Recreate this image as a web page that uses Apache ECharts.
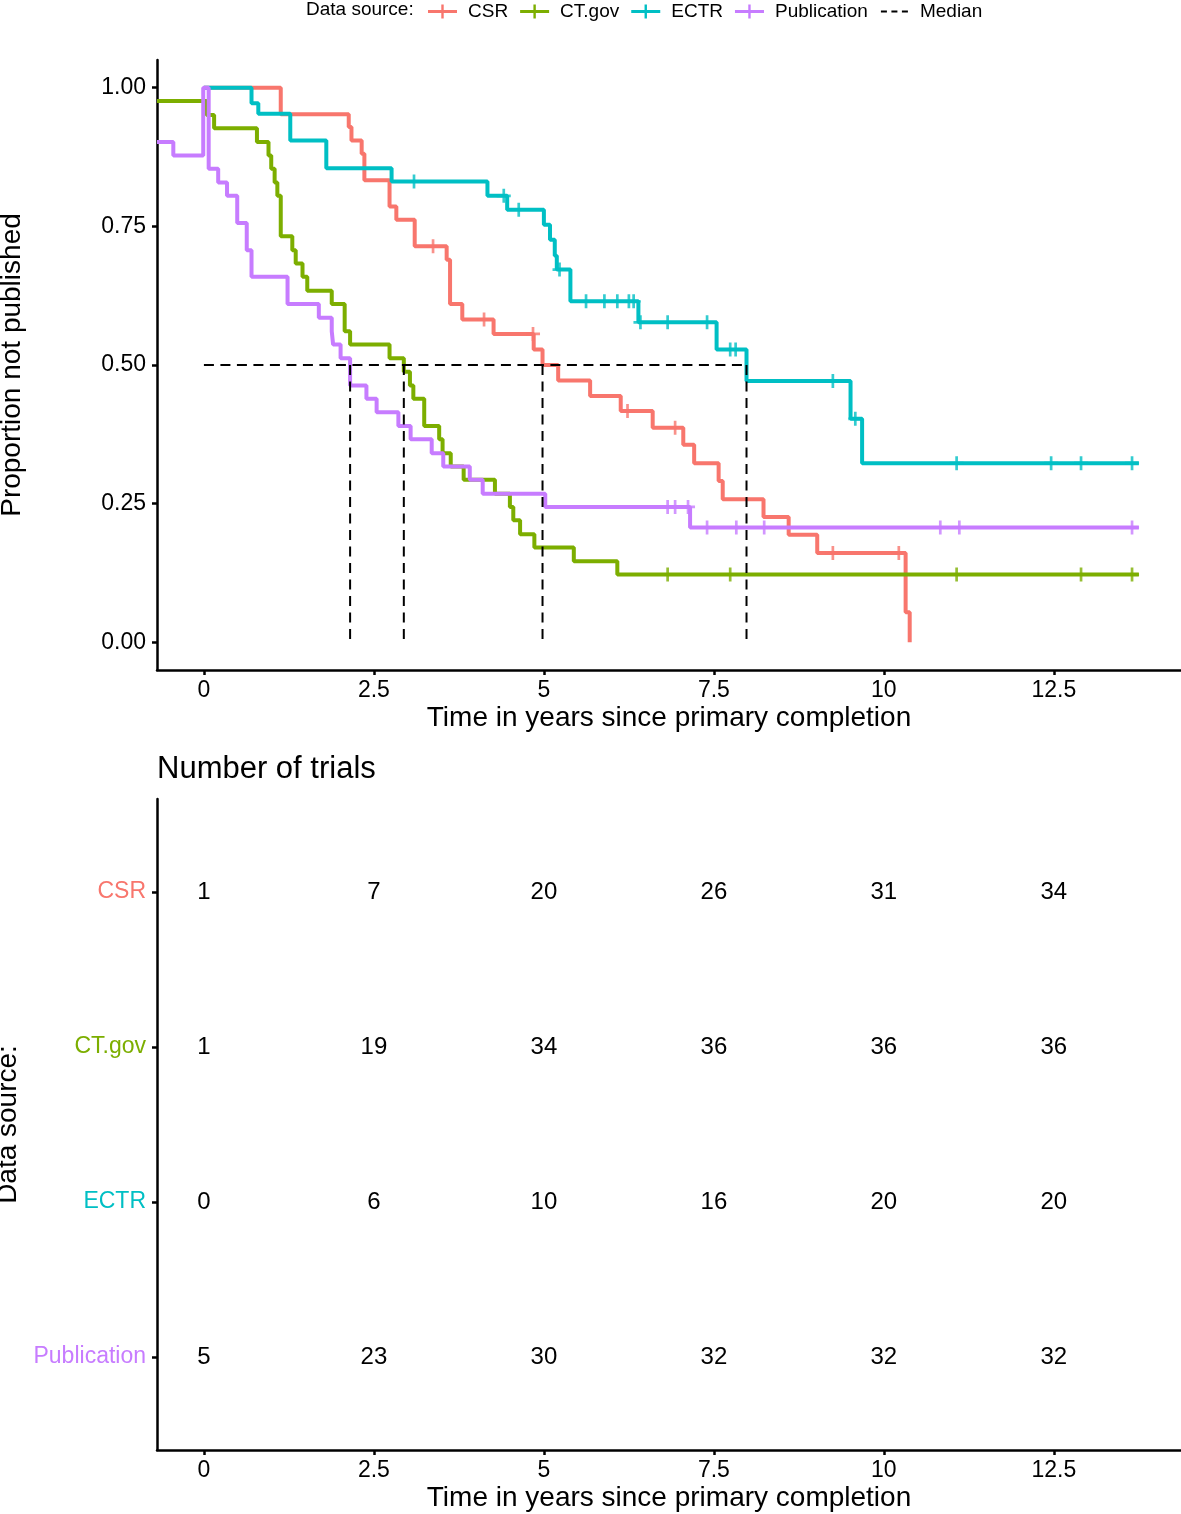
<!DOCTYPE html>
<html><head><meta charset="utf-8">
<script src="https://cdn.jsdelivr.net/npm/echarts@6/dist/echarts.min.js"></script>
<style>html,body{margin:0;padding:0;background:#fff}#chart{width:1181px;height:1514px}</style>
</head><body><div id="chart"></div>
<script>
const FONT = '"Liberation Sans", Arial, Helvetica, sans-serif';
const seriesNames = ['CSR', 'CT.gov', 'ECTR', 'Publication'];
const seriesColors = ['#F8766D', '#7CAE00', '#00BFC4', '#C77CFF'];

// Kaplan-Meier steps (time in years, proportion not published)
const csrTime = [0, 1.13, 2.13, 2.17, 2.32, 2.36, 2.73, 2.83, 3.10, 3.57, 3.62, 3.80, 4.26, 4.85, 4.98, 5.21, 5.68, 6.13, 6.60, 7.05, 7.21, 7.57, 7.63, 8.23, 8.60, 9.02, 10.32, 10.38];
const csrSurv = [1.0, 0.952, 0.929, 0.905, 0.881, 0.833, 0.786, 0.762, 0.714, 0.690, 0.610, 0.582, 0.556, 0.528, 0.500, 0.472, 0.444, 0.417, 0.387, 0.356, 0.323, 0.291, 0.258, 0.226, 0.194, 0.161, 0.054, 0.0];
const csrCensor = [3.37, 4.12, 4.84, 6.23, 6.93, 9.25, 10.22];

const ctgovTime = [-0.69, 0.04, 0.15, 0.78, 0.95, 0.99, 1.04, 1.08, 1.13, 1.30, 1.35, 1.45, 1.52, 1.88, 2.07, 2.15, 2.73, 2.94, 3.03, 3.08, 3.24, 3.46, 3.51, 3.63, 3.82, 4.28, 4.50, 4.55, 4.65, 4.86, 5.44, 6.08, 13.75];
const ctgovSurv = [0.976, 0.951, 0.927, 0.902, 0.878, 0.854, 0.829, 0.805, 0.732, 0.707, 0.683, 0.659, 0.634, 0.610, 0.561, 0.537, 0.512, 0.488, 0.463, 0.439, 0.390, 0.366, 0.341, 0.317, 0.293, 0.268, 0.244, 0.220, 0.195, 0.171, 0.146, 0.122, 0.122];
const ctgovCensor = [6.82, 7.74, 11.07, 12.90, 13.65];

const ectrTime = [0, 0.70, 0.80, 1.27, 1.80, 2.76, 4.17, 4.46, 5.00, 5.09, 5.16, 5.19, 5.39, 6.39, 7.54, 7.98, 9.51, 9.68, 13.75];
const ectrSurv = [1.0, 0.972, 0.953, 0.905, 0.855, 0.831, 0.805, 0.780, 0.753, 0.726, 0.697, 0.672, 0.615, 0.577, 0.528, 0.471, 0.403, 0.323, 0.323];
const ectrCensor = [3.09, 4.41, 4.63, 5.23, 5.62, 5.89, 6.08, 6.25, 6.32, 6.42, 6.82, 7.40, 7.74, 7.82, 9.25, 9.58, 11.07, 12.46, 12.90, 13.65];

const pubTime = [-0.69, -0.45, -0.01, 0.07, 0.21, 0.34, 0.49, 0.63, 0.70, 1.23, 1.69, 1.88, 1.90, 2.01, 2.15, 2.39, 2.54, 2.86, 3.04, 3.35, 3.52, 3.91, 4.10, 5.02, 7.15, 13.75];
const pubSurv = [0.902, 0.878, 1.0, 0.854, 0.829, 0.805, 0.756, 0.707, 0.659, 0.610, 0.585, 0.561, 0.537, 0.512, 0.463, 0.439, 0.415, 0.390, 0.366, 0.341, 0.317, 0.293, 0.268, 0.244, 0.207, 0.207];
const pubCensor = [6.82, 6.93, 7.12, 7.40, 7.83, 8.24, 10.83, 11.11, 13.65];

const medianLevel = 0.5;
const medianTimes = [2.15, 2.94, 4.98, 7.98];

// Number of trials table
const tableTimes = [0, 2.5, 5, 7.5, 10, 12.5];
const csrCounts = [1, 7, 20, 26, 31, 34];
const ctgovCounts = [1, 19, 34, 36, 36, 36];
const ectrCounts = [0, 6, 10, 16, 20, 20];
const pubCounts = [5, 23, 30, 32, 32, 32];

const xTicks = [0, 2.5, 5, 7.5, 10, 12.5];
const yTicks = [0, 0.25, 0.5, 0.75, 1.0];

const curves = [
  [csrTime, csrSurv, csrCensor],
  [ctgovTime, ctgovSurv, ctgovCensor],
  [ectrTime, ectrSurv, ectrCensor],
  [pubTime, pubSurv, pubCensor]
];
const counts = [csrCounts, ctgovCounts, ectrCounts, pubCounts];

function survAt(times, survs, t) {
  let s = survs[0];
  for (let i = 0; i < times.length; i++) if (times[i] <= t) s = survs[i];
  return s;
}

const plusPath = 'path://M0,5.25H13V7.75H0Z M5.25,0H7.75V13H5.25Z';
const legendPlus = 'path://M0,5.5H29V8.5H0Z M13.3,0H15.7V14H13.3Z';
const legendDash = 'path://M0,0h0.01v0.01h-0.01Z M29,14h0.01v0.01h-0.01Z M1,6H7V8H1Z M11.5,6H17.5V8H11.5Z M22,6H28V8H22Z';

const series = [];
curves.forEach((c, i) => {
  const [tt, ss, cc] = c;
  series.push({
    name: seriesNames[i], type: 'line', step: 'end', xAxisIndex: 0, yAxisIndex: 0,
    data: tt.map((t, k) => [t, ss[k]]), showSymbol: false, symbol: 'none',
    lineStyle: { color: seriesColors[i], width: 4 }, itemStyle: { color: seriesColors[i] },
    z: 2 + i, silent: true
  });
  series.push({
    name: seriesNames[i], type: 'scatter', xAxisIndex: 0, yAxisIndex: 0,
    data: cc.map(t => [t, survAt(tt, ss, t)]), symbol: plusPath, symbolSize: 14,
    itemStyle: { color: seriesColors[i] }, z: 2 + i, silent: true
  });
});
const maxMedian = Math.max.apply(null, medianTimes);
series.push({
  name: 'Median', type: 'line', xAxisIndex: 0, yAxisIndex: 0,
  data: [[0, medianLevel], [maxMedian, medianLevel]], symbol: 'none',
  lineStyle: { color: '#000', width: 2, type: [10, 6.5] }, itemStyle: { color: '#000' }, z: 10, silent: true
});
medianTimes.forEach(t => {
  series.push({
    name: 'Median', type: 'line', xAxisIndex: 0, yAxisIndex: 0,
    data: [[t, medianLevel], [t, 0]], symbol: 'none',
    lineStyle: { color: '#000', width: 2, type: [10, 6.5] }, itemStyle: { color: '#000' }, z: 10, silent: true
  });
});
const tableData = [];
counts.forEach((arr, r) => arr.forEach((v, k) => tableData.push([tableTimes[k], r, v])));
series.push({
  name: 'table', type: 'scatter', xAxisIndex: 1, yAxisIndex: 1, data: tableData,
  symbol: 'circle', symbolSize: 1, itemStyle: { color: '#fff', opacity: 1 }, silent: true,
  label: { show: true, position: 'inside', formatter: p => String(p.value[2]), color: '#000', opacity: 1,
    textBorderWidth: 0, fontSize: 24, fontFamily: FONT }
});

const axisLineStyle = { show: true, onZero: false, lineStyle: { color: '#000', width: 2.5 } };
const axisTickStyle = (vals) => ({ show: true, customValues: vals, length: 5, lineStyle: { color: '#000', width: 2.5 } });

const rich = {};
seriesNames.forEach((n, i) => { rich['c' + i] = { color: seriesColors[i], fontSize: 23, fontFamily: FONT }; });

const xAxisBase = (gi) => ({
  type: 'value', gridIndex: gi, min: -0.69, max: 14.37,
  axisLine: axisLineStyle, axisTick: axisTickStyle(xTicks), splitLine: { show: false },
  axisLabel: { customValues: xTicks, color: '#000', fontSize: 23, fontFamily: FONT, margin: 9, formatter: v => String(v) },
  name: 'Time in years since primary completion', nameLocation: 'middle', nameGap: 34,
  nameTextStyle: { color: '#000', fontSize: 28, fontFamily: FONT }
});

const option = {
  animation: false,
  backgroundColor: '#fff',
  textStyle: { fontFamily: FONT },
  title: [
    { text: 'Data source:', left: 306, top: 0, padding: 0, textStyle: { fontSize: 19, fontWeight: 'normal', color: '#000', fontFamily: FONT } },
    { text: 'Number of trials', left: 157, top: 754, padding: 0, textStyle: { fontSize: 31, fontWeight: 'normal', color: '#000', fontFamily: FONT } }
  ],
  legend: {
    left: 428, top: 2, itemWidth: 29, itemHeight: 14, itemGap: 12, selectedMode: false, padding: 0,
    textStyle: { fontSize: 19, color: '#000', fontFamily: FONT, padding: [0, 0, 0, 6] },
    data: [
      { name: 'CSR', icon: legendPlus, itemStyle: { color: seriesColors[0] } },
      { name: 'CT.gov', icon: legendPlus, itemStyle: { color: seriesColors[1] } },
      { name: 'ECTR', icon: legendPlus, itemStyle: { color: seriesColors[2] } },
      { name: 'Publication', icon: legendPlus, itemStyle: { color: seriesColors[3] } },
      { name: 'Median', icon: legendDash, itemStyle: { color: '#000' } }
    ]
  },
  grid: [
    { left: 157, right: 0, top: 60, height: 610, containLabel: false, outerBoundsMode: 'none' },
    { left: 157, right: 0, top: 799, height: 651, containLabel: false, outerBoundsMode: 'none' }
  ],
  xAxis: [xAxisBase(0), xAxisBase(1)],
  yAxis: [
    {
      type: 'value', gridIndex: 0, min: -0.05, max: 1.05,
      axisLine: axisLineStyle, axisTick: axisTickStyle(yTicks), splitLine: { show: false },
      axisLabel: { customValues: yTicks, color: '#000', fontSize: 23, fontFamily: FONT, margin: 11, formatter: v => v.toFixed(2) },
      name: 'Proportion not published', nameLocation: 'middle', nameGap: 131,
      nameTextStyle: { color: '#000', fontSize: 28, fontFamily: FONT }
    },
    {
      type: 'value', gridIndex: 1, min: -0.6, max: 3.6, inverse: true,
      axisLine: axisLineStyle, axisTick: axisTickStyle([0, 1, 2, 3]), splitLine: { show: false },
      axisLabel: { customValues: [0, 1, 2, 3], margin: 11, fontSize: 23, fontFamily: FONT, rich: rich,
        formatter: v => '{c' + Math.round(v) + '|' + seriesNames[Math.round(v)] + '}' },
      name: 'Data source:', nameLocation: 'middle', nameGap: 131,
      nameTextStyle: { color: '#000', fontSize: 28, fontFamily: FONT }
    }
  ],
  series: series
};
const chart = echarts.init(document.getElementById('chart'), null, { renderer: 'canvas' });
chart.setOption(option);
</script></body></html>
